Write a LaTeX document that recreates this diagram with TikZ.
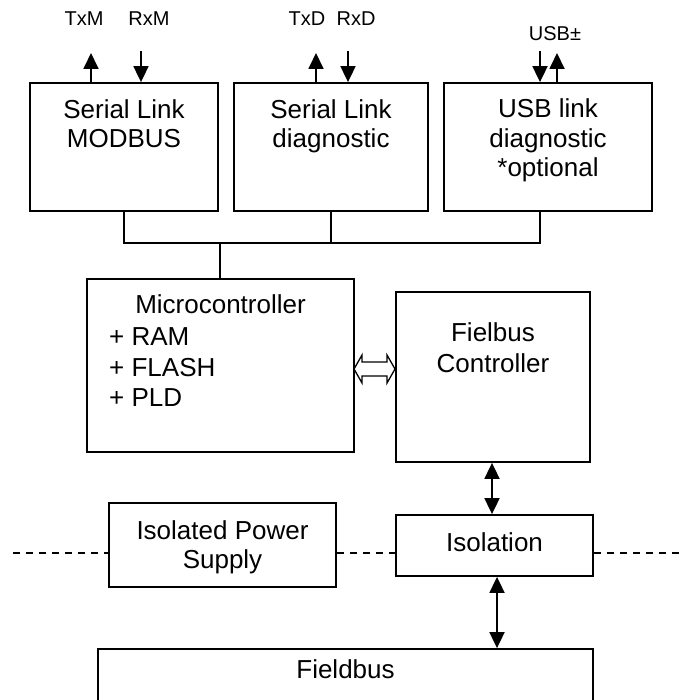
\documentclass[tikz,border=0pt]{standalone}
\usepackage{fontspec}
\setmainfont{Liberation Sans}
\usetikzlibrary{arrows.meta,calc}
\begin{document}
\begin{tikzpicture}[x=1pt,y=-1pt,
  box/.style={draw, line width=1.8pt, inner sep=0pt},
  txt/.style={font=\fontsize{26}{29}\selectfont, inner sep=0pt, anchor=base},
  lbl/.style={font=\fontsize{20}{24}\selectfont, inner sep=0pt, anchor=base},
  wire/.style={line width=1.8pt},
  arr/.style={line width=1.8pt, -{Triangle[length=16pt,width=15pt]}},
  darr/.style={line width=1.8pt, {Triangle[length=16pt,width=15pt]}-{Triangle[length=16pt,width=15pt]}},
  dashline/.style={line width=1.2pt, dash pattern=on 7pt off 6pt}]
\useasboundingbox (0,0) rectangle (681,700);
\clip (0,0) rectangle (681,700);

% boxes
\node[box, minimum width=188pt, minimum height=128pt] (b1) at (124,147) {};
\node[box, minimum width=194pt, minimum height=128pt] (b2) at (331,147) {};
\node[box, minimum width=208pt, minimum height=128pt] (b3) at (548,147) {};
\node[box, minimum width=267pt, minimum height=173pt] (mc) at (220.5,365.5) {};
\node[box, minimum width=194pt, minimum height=170pt] (fc) at (493,377) {};
\node[box, minimum width=227pt, minimum height=84pt] (ps) at (222.5,545) {};
\node[box, minimum width=197pt, minimum height=61pt] (iso) at (494.5,545.5) {};
\node[box, minimum width=495pt, minimum height=80pt] (fb) at (345.5,689) {};

% box texts
\node[txt] (t1a) at (124,119) {Serial Link};
\node[txt] (t1b) at (124,148) {MODBUS};
\node[txt] (t2a) at (331,119) {Serial Link};
\node[txt] (t2b) at (331,148) {diagnostic};
\node[txt] (t3a) at (548,118) {USB link};
\node[txt] (t3b) at (548,148) {diagnostic};
\node[txt] (t3c) at (548,177) {*optional};
\node[txt] (mct) at (220.5,313) {Microcontroller};
\node[txt, anchor=base west] (mc1) at (109,345) {+ RAM};
\node[txt, anchor=base west] (mc2) at (109,376) {+ FLASH};
\node[txt, anchor=base west] (mc3) at (109,406) {+ PLD};
\node[txt] (fca) at (493,341) {Fielbus};
\node[txt] (fcb) at (493,372) {Controller};
\node[txt] (psa) at (222.5,539) {Isolated Power};
\node[txt] (psb) at (222.5,568) {Supply};
\node[txt] (isot) at (494.5,551) {Isolation};
\node[txt] (fbt) at (345.5,678) {Fieldbus};

% signal labels
\node[lbl] (ltxm) at (84,26) {TxM};
\node[lbl] (lrxm) at (149,26) {RxM};
\node[lbl] (ltxd) at (307,26) {TxD};
\node[lbl] (lrxd) at (356,26) {RxD};
\node[lbl] (lusb) at (555,40.5) {USB±};

% signal arrows
\coordinate (txm) at (91,53);
\coordinate (rxm) at (141,51);
\coordinate (txd) at (316,53);
\coordinate (rxd) at (348,51);
\coordinate (usbi) at (540,51);
\coordinate (usbo) at (557,53);
\draw[arr] (txm|-b1.north) -- (txm);
\draw[arr] (rxm) -- (rxm|-b1.north);
\draw[arr] (txd|-b2.north) -- (txd);
\draw[arr] (rxd) -- (rxd|-b2.north);
\draw[arr] (usbi) -- (usbi|-b3.north);
\draw[arr] (usbo|-b3.north) -- (usbo);

% bus
\coordinate (bus) at (124,243);
\coordinate (b3s) at (540,211);
\coordinate (mcn) at (220,279);
\draw[wire] (b1.south) -- (b1.south|-bus) -- (b3s|-bus) -- (b3s);
\draw[wire] (b2.south) -- (b2.south|-bus);
\draw[wire] (mcn) -- (mcn|-bus);

% hollow double arrow
\coordinate (ha) at (354,369);
\coordinate (hb) at (395,369);
\draw[line width=1.3pt, fill=white] (ha) -- ++(8,-14) -- ++(0,7) -- ($(hb)+(-8,-7)$) -- ++(0,-7) -- (hb)
  -- ++(-8,14) -- ++(0,-7) -- ($(ha)+(8,7)$) -- ++(0,7) -- cycle;

% vertical double arrows
\coordinate (v1) at (492,0);
\coordinate (v2) at (497,0);
\draw[darr] (v1|-fc.south) -- (v1|-iso.north);
\draw[darr] (v2|-iso.south) -- (v2|-fb.north);

% dashed isolation barrier
\coordinate (dl) at (13,553);
\coordinate (dr) at (681,553);
\draw[dashline] (dl) -- (dl-|ps.west);
\draw[dashline] (dl-|ps.east) -- (dl-|iso.west);
\draw[dashline] (dl-|iso.east) -- (dr);
\end{tikzpicture}
\end{document}
